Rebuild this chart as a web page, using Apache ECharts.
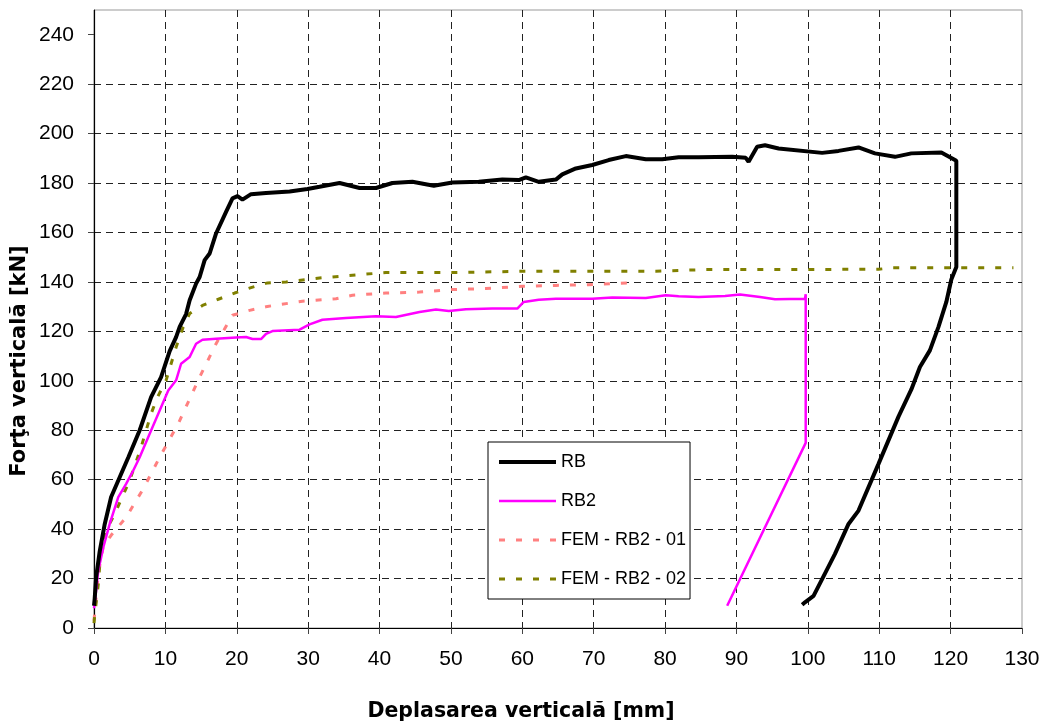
<!DOCTYPE html>
<html>
<head>
<meta charset="utf-8">
<script src="https://cdn.jsdelivr.net/npm/echarts@6/dist/echarts.min.js"></script>
<style>
  html, body { margin: 0; padding: 0; background: #fff; }
  #chart { width: 1046px; height: 722px; }
</style>
</head>
<body>
<div id="chart"></div>
<script>
// Load–displacement curves: vertical displacement [mm] vs vertical force [kN]
const seriesNames = ['RB', 'RB2', 'FEM - RB2 - 01', 'FEM - RB2 - 02'];

// RB test (loading, plateau, drop and unloading)
const rbDisp = [0.0, 0.1, 0.3, 0.8, 1.5, 2.4, 3.6, 4.8, 6.4, 8.0, 9.4, 10.6, 11.5, 12.0, 12.9, 13.4, 14.3, 14.8, 15.5, 16.2, 17.1, 18.5, 19.4, 20.1, 20.8, 22.0, 24.1, 27.4, 29.9, 31.6, 34.4, 37.2, 39.5, 41.8, 44.6, 47.6, 50.2, 53.9, 57.2, 59.5, 60.5, 62.3, 64.7, 65.6, 67.5, 69.8, 72.1, 74.5, 77.3, 79.6, 81.9, 84.7, 89.4, 91.3, 91.7, 92.9, 94.0, 95.9, 102.0, 104.3, 107.1, 109.4, 112.2, 114.5, 118.7, 120.8, 120.8, 120.1, 119.4, 118.3, 117.1, 115.7, 114.5, 112.7, 109.9, 107.1, 105.7, 103.8, 102.0, 100.8, 99.6, 99.2];
const rbForce = [9, 12, 20.5, 31, 42, 53, 61, 69, 80, 93.4, 101.5, 112, 117.7, 121.8, 127, 132.6, 139.3, 142, 148.8, 151.5, 159.6, 168.3, 173.8, 174.7, 173.3, 175.5, 176, 176.6, 177.6, 178.5, 180, 178, 178, 180, 180.5, 178.9, 180.2, 180.5, 181.4, 181.2, 182.3, 180.5, 181.4, 183.5, 185.9, 187.3, 189.3, 190.9, 189.6, 189.6, 190.4, 190.4, 190.6, 190.2, 188.6, 194.7, 195.3, 194, 192.2, 193, 194.4, 192, 190.6, 192, 192.4, 189, 146, 141, 131.9, 121.8, 112.3, 105.6, 96.5, 85.5, 66.4, 47.5, 42.1, 30, 19.8, 13, 10.4, 9.4];

// RB2 test
const rb2Disp = [0.0, 0.1, 0.6, 1.3, 2.2, 3.4, 4.5, 5.5, 6.4, 7.8, 9.2, 10.4, 11.5, 12.2, 13.4, 14.3, 15.2, 17.1, 19.9, 21.3, 22.2, 23.4, 24.1, 25.0, 28.8, 30.2, 32.0, 35.3, 39.5, 42.3, 45.6, 47.9, 49.7, 52.1, 55.8, 59.3, 60.2, 62.3, 64.7, 69.8, 72.6, 77.3, 80.1, 81.9, 84.7, 88.4, 90.5, 93.3, 95.4, 99.6, 99.7, 99.7, 88.7];
const rb2Force = [8, 10, 23.2, 32.6, 42.1, 52.9, 58.3, 63.7, 69.1, 78.6, 88, 96.1, 100.2, 106.9, 109.6, 115, 116.6, 117, 117.5, 117.7, 116.9, 116.9, 119, 120.1, 120.7, 122.8, 124.7, 125.4, 126.1, 125.8, 127.8, 128.8, 128.2, 128.9, 129.2, 129.2, 131.9, 132.8, 133.2, 133.2, 133.7, 133.5, 134.6, 134.2, 133.9, 134.3, 134.9, 133.9, 133, 133.2, 135, 74.9, 9];

// FEM model 01
const fem1Disp = [0.0, 0.6, 1.3, 2.4, 4.5, 6.9, 9.2, 11.8, 14.8, 17.1, 19.4, 21.8, 24.3, 29.2, 33.9, 36.2, 40.9, 45.6, 50.2, 54.9, 60.0, 64.7, 69.3, 74.7];
const fem1Force = [3, 22, 33, 37.5, 44.8, 56.3, 69.1, 82.6, 101.5, 115, 126.5, 128.5, 130.1, 132.2, 133.2, 134.6, 135.5, 135.9, 136.9, 137.3, 138.2, 138.6, 138.9, 139.6];

// FEM model 02
const fem2Disp = [0.0, 0.1, 0.6, 1.0, 1.7, 2.9, 5.0, 6.6, 8.0, 8.9, 10.1, 11.5, 12.5, 13.4, 15.2, 17.6, 19.7, 22.0, 24.3, 26.9, 31.6, 36.2, 40.9, 50.2, 60.0, 78.7, 85.6, 109.9, 111.7, 128.8];
const fem2Force = [2, 5, 17.8, 32.6, 39.4, 46.2, 59.7, 73.1, 86.7, 93.4, 100.2, 113.6, 121.8, 127.2, 130.5, 133.2, 135.5, 137.7, 139.6, 140, 141.6, 142.7, 143.8, 143.8, 144.3, 144.3, 145, 145.1, 145.7, 145.7];

// Axis ticks and titles
const xTicks = [0, 10, 20, 30, 40, 50, 60, 70, 80, 90, 100, 110, 120, 130];
const yTicks = [0, 20, 40, 60, 80, 100, 120, 140, 160, 180, 200, 220, 240];
const xTitle = 'Deplasarea verticală [mm]';
const yTitle = 'Forţa verticală [kN]';

const pairs = (xs, ys) => xs.map((x, i) => [x, ys[i]]);

// Line style of each curve, shared by the plot and its legend key
const styles = [
  { color: '#000000', width: 4, type: 'solid' },
  { color: '#FF00FF', width: 2.5, type: 'solid' },
  { color: '#FF8080', width: 3, type: [6, 11] },
  { color: '#808000', width: 3, type: [6, 11] }
];

const chart = echarts.init(document.getElementById('chart'), null, { renderer: 'canvas' });

const labelFont = { fontFamily: 'Liberation Sans', fontSize: 21, color: '#000' };
const gridLine = { show: true, showMinLine: false, showMaxLine: false, lineStyle: { color: '#222', width: 1, type: [7, 5] } };

const curves = [[rbDisp, rbForce], [rb2Disp, rb2Force], [fem1Disp, fem1Force], [fem2Disp, fem2Force]];
const zOrder = [5, 4, 3, 3];

chart.setOption({
  animation: false,
  backgroundColor: '#fff',
  grid: { left: 94, right: 24, top: 10, bottom: 94, show: true, borderColor: '#999', borderWidth: 1, backgroundColor: 'transparent' },
  xAxis: {
    type: 'value', min: 0, max: 130, interval: 10,
    axisLine: { show: true, lineStyle: { color: '#000', width: 1.2 } },
    axisTick: { show: true, length: 6, inside: false, lineStyle: { color: '#444' } },
    axisLabel: Object.assign({ margin: 21, customValues: xTicks }, labelFont),
    splitLine: gridLine
  },
  yAxis: {
    type: 'value', min: 0, max: 250, interval: 20,
    axisLine: { show: true, lineStyle: { color: '#000', width: 1.2 } },
    axisTick: { show: true, length: 6, inside: false, customValues: yTicks, lineStyle: { color: '#444' } },
    axisLabel: Object.assign({ margin: 20, customValues: yTicks }, labelFont),
    splitLine: gridLine
  },
  legend: {
    orient: 'vertical',
    left: 488, top: 442,
    padding: [11, 4, 11, 9],
    itemGap: 21,
    itemWidth: 57,
    itemHeight: 14,
    backgroundColor: '#fff',
    borderColor: '#000',
    borderWidth: 1,
    borderRadius: 0,
    // line-only keys: hide the marker drawn in the middle of each key
    itemStyle: { opacity: 0 },
    textStyle: { fontFamily: 'Liberation Sans', fontSize: 18, color: '#000' },
    data: seriesNames.map((n, i) => ({ name: n, lineStyle: { width: styles[i].width, type: styles[i].type, color: styles[i].color } }))
  },
  series: seriesNames.map((n, i) => ({
    name: n,
    type: 'line',
    symbol: 'none',
    data: pairs(curves[i][0], curves[i][1]),
    lineStyle: { color: styles[i].color, width: styles[i].width, type: styles[i].type },
    itemStyle: { color: styles[i].color },
    z: zOrder[i]
  })),
  graphic: [
    { type: 'text', x: 521, y: 712, style: { text: xTitle, fontFamily: 'DejaVu Sans', fontWeight: 'bold', fontSize: 20.5, fill: '#000', align: 'center', verticalAlign: 'middle' } },
    { type: 'text', x: 20, y: 361, rotation: Math.PI / 2, style: { text: yTitle, fontFamily: 'DejaVu Sans', fontWeight: 'bold', fontSize: 21, fill: '#000', align: 'center', verticalAlign: 'middle' } }
  ]
});
</script>
</body>
</html>
